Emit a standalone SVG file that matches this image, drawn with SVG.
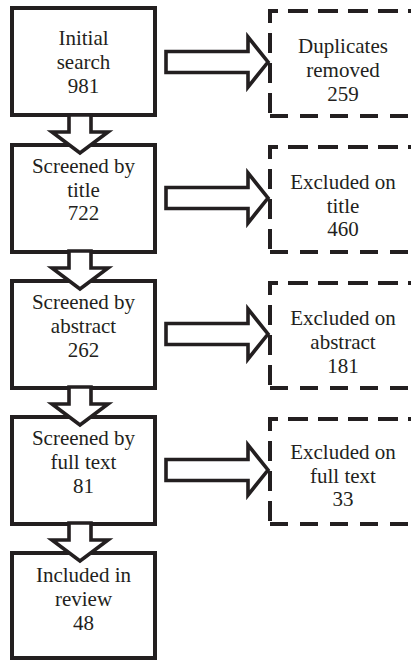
<svg xmlns="http://www.w3.org/2000/svg" width="411" height="661" viewBox="0 0 411 661">
<style>
.box{fill:#fff;stroke:#231f20;stroke-width:4;stroke-linejoin:miter}
.dash{fill:none;stroke:#231f20;stroke-width:4}
.arr{fill:#fff;stroke:#231f20;stroke-width:3.6;stroke-linejoin:miter;stroke-miterlimit:10}
</style>
<rect width="411" height="661" fill="#fff"/>
<g font-family="Liberation Serif, Tinos, Times New Roman, DejaVu Serif, serif" font-size="21" fill="#231f20" text-anchor="middle">
<g id="n1"><rect class="box" x="12" y="8" width="143" height="107"/>
<text x="83.5" y="45">Initial</text><text x="83.5" y="69">search</text><text x="83.5" y="93">981</text></g>
<g id="n2"><rect class="box" x="12" y="145" width="143" height="107"/>
<text x="83.5" y="173">Screened by</text><text x="83.5" y="197">title</text><text x="83.5" y="220">722</text></g>
<g id="n3"><rect class="box" x="12" y="281" width="143" height="107"/>
<text x="83.5" y="309">Screened by</text><text x="83.5" y="333">abstract</text><text x="83.5" y="357">262</text></g>
<g id="n4"><rect class="box" x="12" y="417" width="143" height="107"/>
<text x="83.5" y="445">Screened by</text><text x="83.5" y="469">full text</text><text x="83.5" y="493">81</text></g>
<g id="n5"><rect class="box" x="12" y="553" width="143" height="105"/>
<text x="83.5" y="582">Included in</text><text x="83.5" y="606">review</text><text x="83.5" y="630">48</text></g>
<g id="d1"><path class="dash" d="M270,113V11H416" stroke-dasharray="20 10"/><path class="dash" d="M270,116H416" stroke-dasharray="18 12"/>
<text x="343" y="53">Duplicates</text><text x="343" y="77">removed</text><text x="343" y="101">259</text></g>
<g id="d2"><path class="dash" d="M270,249V147H416" stroke-dasharray="20 10"/><path class="dash" d="M270,252H416" stroke-dasharray="18 12"/>
<text x="343" y="189">Excluded on</text><text x="343" y="213">title</text><text x="343" y="236">460</text></g>
<g id="d3"><path class="dash" d="M270,385V283H416" stroke-dasharray="20 10"/><path class="dash" d="M270,388H416" stroke-dasharray="18 12"/>
<text x="343" y="325">Excluded on</text><text x="343" y="349">abstract</text><text x="343" y="373">181</text></g>
<g id="d4"><path class="dash" d="M270,521V419H416" stroke-dasharray="20 10"/><path class="dash" d="M270,524H416" stroke-dasharray="18 12"/>
<text x="343" y="459">Excluded on</text><text x="343" y="483">full text</text><text x="343" y="506">33</text></g>
</g>
<g id="connectors">
<path class="arr" d="M166,51.5H248V37L268,62L248,87V72.5H166Z"/>
<path class="arr" d="M166,187.5H248V173L268,198L248,223V208.5H166Z"/>
<path class="arr" d="M166,323.5H248V309L268,334L248,359V344.5H166Z"/>
<path class="arr" d="M166,459.5H248V445L268,470L248,495V480.5H166Z"/>
<path class="arr" d="M69,115H91V132H108L80,153L52,132H69Z"/>
<path class="arr" d="M69,251H91V268H108L80,289L52,268H69Z"/>
<path class="arr" d="M69,387H91V404H108L80,425L52,404H69Z"/>
<path class="arr" d="M69,523H91V540H108L80,561L52,540H69Z"/>
</g>
</svg>
